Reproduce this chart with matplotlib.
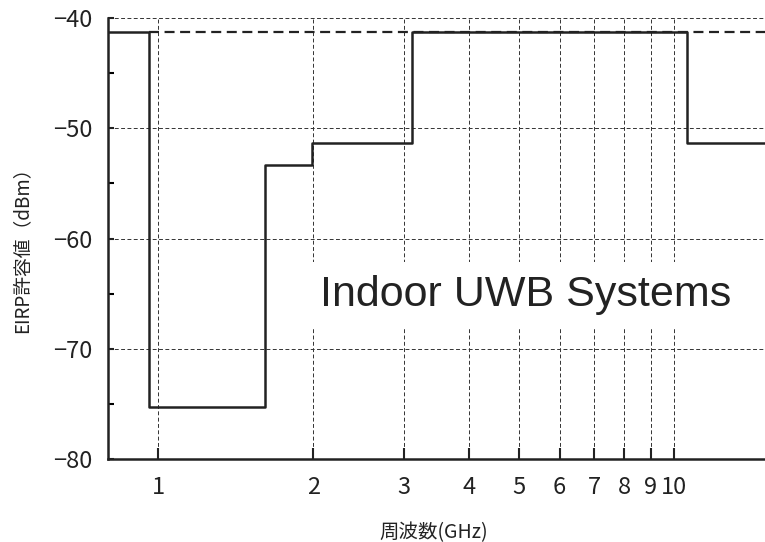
import numpy as np
import matplotlib
matplotlib.use("Agg")
import matplotlib.pyplot as plt

plt.rcParams['font.family'] = ['Noto Sans CJK JP', 'DejaVu Sans']

# FCC indoor UWB emission mask
edges = [0.8, 0.96, 1.61, 1.99, 3.1, 10.6, 15.0]   # GHz
levels = [-41.3, -75.3, -53.3, -51.3, -41.3, -51.3]  # dBm
ref_level = -41.3
ref_start = 0.96

xticks = [1, 2, 3, 4, 5, 6, 7, 8, 9, 10]
yticks = [-40, -50, -60, -70, -80]

fig = plt.figure(figsize=(7.65, 5.42), dpi=100)
ax = fig.add_axes([0.1412, 0.1531, 0.8588, 0.8137])

ax.set_xscale('log')
ax.set_xlim(edges[0], edges[-1])
ax.set_ylim(-80, -40)

# dashed reference line behind mask
ax.plot([ref_start, edges[-1]], [ref_level, ref_level], color='#222222',
        lw=1.6, ls=(0, (4.5, 2.5)), zorder=2)

# mask (step)
ax.step(edges, levels + [levels[-1]], where='post', color='#222222', lw=1.8, zorder=3)

# grid
for xv in xticks:
    ax.axvline(xv, color='#333333', lw=0.7, ls=(0, (4, 2.5)), zorder=1)
for yv in [-40, -50, -60, -70]:
    ax.axhline(yv, color='#333333', lw=0.7, ls=(0, (4, 2.5)), zorder=1)

ax.set_xticks(xticks)
ax.set_xticklabels([str(v) for v in xticks])
ax.xaxis.set_minor_locator(matplotlib.ticker.NullLocator())
ax.set_yticks(yticks)
ax.set_yticklabels(['\u221240', '\u221250', '\u221260', '\u221270', '\u221280'])
ax.set_yticks([-45, -55, -65, -75], minor=True)

ax.tick_params(axis='both', which='major', direction='in', width=1.5,
               labelsize=17, colors='#222222')
ax.tick_params(axis='x', length=8, pad=12)
ax.tick_params(axis='y', length=4, pad=11)
ax.tick_params(axis='y', which='minor', direction='in', length=4, width=1.5)

for s in ['top', 'right']:
    ax.spines[s].set_visible(False)
for s in ['left', 'bottom']:
    ax.spines[s].set_linewidth(1.8)
    ax.spines[s].set_color('#222222')

ax.text(0.636, 0.372, 'Indoor UWB Systems', transform=ax.transAxes,
        fontsize=31, ha='center', va='center', color='#222222', zorder=4,
        family=['Liberation Sans', 'DejaVu Sans'],
        bbox=dict(facecolor='white', edgecolor='none', pad=9))

fig.text(0.029, 0.548, 'EIRP許容値（dBm）', rotation=90, fontsize=13.5,
         ha='center', va='center', color='#222222')
fig.text(0.567, 0.017, '周波数(GHz)', fontsize=14, ha='center', va='center',
         color='#222222')

fig.savefig('out.png', dpi=100)
